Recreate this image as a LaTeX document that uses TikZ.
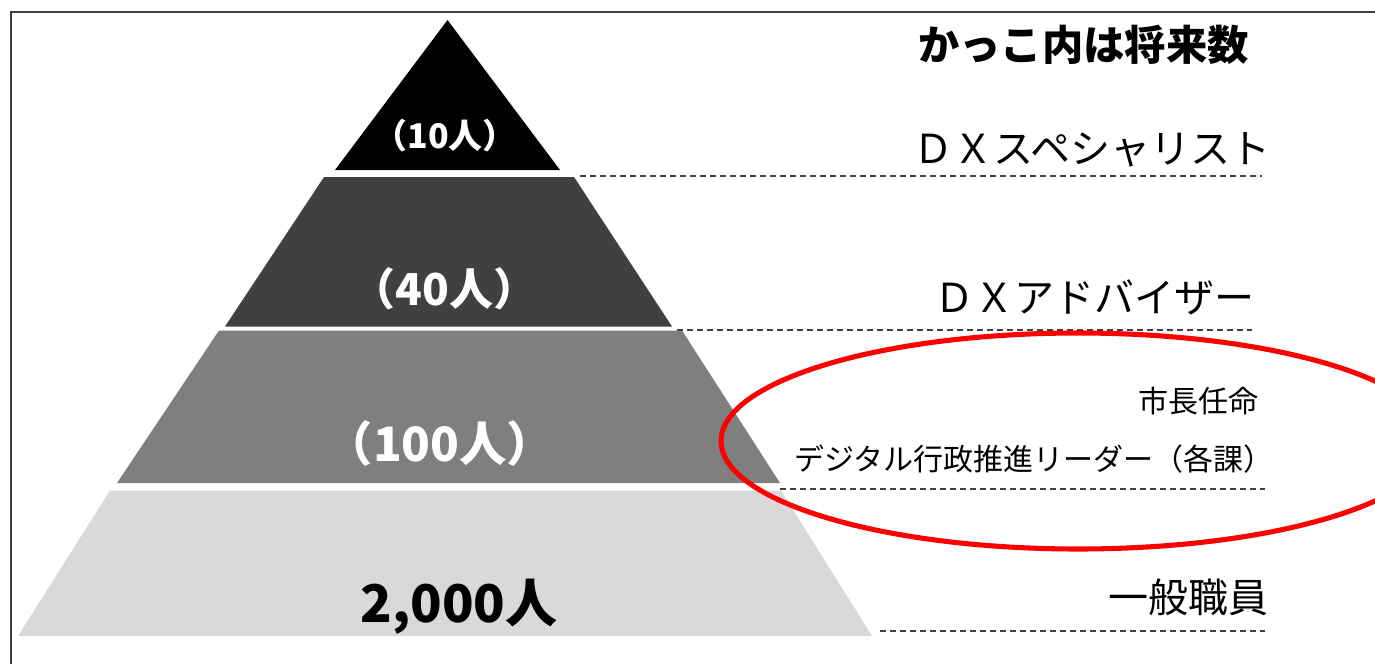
\documentclass[tikz,border=0pt]{standalone}
\usepackage{fontspec}
\newfontfamily\jp{Noto Sans CJK JP}
\definecolor{tierA}{HTML}{000000}
\definecolor{tierB}{HTML}{404040}
\definecolor{tierC}{HTML}{7F7F7F}
\definecolor{tierD}{HTML}{D9D9D9}
\definecolor{guidecol}{HTML}{404040}
\definecolor{framecol}{HTML}{404040}
\begin{document}
\begin{tikzpicture}[x=0.75pt,y=-0.75pt,
  lbl/.style={font=\jp\fontsize{#1}{#1}\selectfont, inner sep=0pt, text=black},
  numw/.style={font=\jp\bfseries\fontsize{#1}{#1}\selectfont, inner sep=0pt, text=white},
  numb/.style={font=\jp\bfseries\fontsize{#1}{#1}\selectfont, inner sep=0pt, text=black},
  guide/.style={draw=guidecol, line width=0.8pt, dash pattern=on 4.5pt off 3pt},
  ring/.style={draw=red, line width=3.8pt}
]
\useasboundingbox (0,0) rectangle (1375,664);
\fill[white] (0,0) rectangle (1375,664);
\draw[framecol, line width=0.9pt] (11,664) -- (11,12) -- (1375,12);

% pyramid tiers
\fill[tierA] (447.5,20) -- (560,170) -- (335,170) -- cycle;
\fill[tierB] (324,177) -- (574,177) -- (672,326.5) -- (225,326.5) -- cycle;
\fill[tierC] (219,330.5) -- (682,330.5) -- (780,483) -- (117,483) -- cycle;
\fill[tierD] (110,490.5) -- (781,490.5) -- (872,636) -- (18,636) -- cycle;

% guide line end points
\coordinate (g1a) at (580,176);  \coordinate (g1b) at (1262,176);
\coordinate (g2a) at (677,330);  \coordinate (g2b) at (1252,330);
\coordinate (g3a) at (780,489);  \coordinate (g3b) at (1265,489);
\coordinate (g4a) at (880,631);  \coordinate (g4b) at (1265,631);
\draw[guide] (g1a) -- (g1b);
\draw[guide] (g2a) -- (g2b);
\draw[guide] (g3a) -- (g3b);
\draw[guide] (g4a) -- (g4b);

% tier numbers
\node[numw=25.5, anchor=base] (n10) at (445,148) {（10人）};
\node[numw=33, anchor=base] (n40) at (444.5,305) {（40人）};
\node[numw=35.5, anchor=base] (n100) at (440,461.5) {（100人）};
\node[numb=39, anchor=base] (n2000) at (459,622) {2,000人};

% labels
\node[lbl=31, font=\jp\bfseries\fontsize{31}{31}\selectfont, anchor=base east] (title) at (1249,60.5) {かっこ内は将来数};
\node[lbl=30, anchor=base east] (l1) at (1271,163) {ＤＸスペシャリスト};
\node[lbl=30, anchor=base east] (l2) at (1255,312) {ＤＸアドバイザー};
\node[lbl=22.5, anchor=base east] (l3a) at (1259,412) {市長任命};
\node[lbl=22.5, anchor=base west] (l3b) at (794,470.5) {デジタル行政推進リーダー（各課）};
\node[lbl=30, anchor=base east] (l4) at (1269,612) {一般職員};

% highlight
\draw[ring] (1078,441) ellipse [x radius=357, y radius=108];
\end{tikzpicture}
\end{document}
